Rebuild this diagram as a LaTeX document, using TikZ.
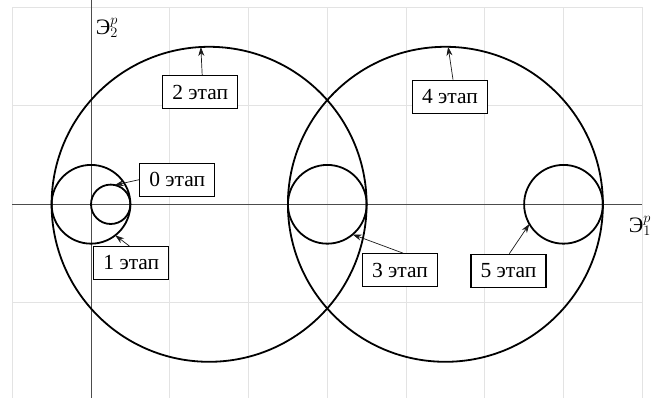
\documentclass[tikz,border=0pt]{standalone}
\usepackage{fontspec}
\setmainfont{Liberation Serif}
\usetikzlibrary{arrows.meta}
\begin{document}
\begin{tikzpicture}[x=1pt,y=-1pt,
  gridline/.style={draw=black!11,line width=0.8pt},
  axisline/.style={draw=black!70,line width=0.7pt},
  ring/.style={circle,draw=black,line width=1.8pt,inner sep=0pt,outer sep=0pt},
  stagebox/.style={draw=black,line width=1.1pt,fill=white,minimum width=75pt,
    minimum height=33pt,inner sep=0pt,font=\fontsize{21.5}{25}\selectfont},
  pointer/.style={draw=black!90,line width=0.7pt,-{Stealth[length=9pt,width=6pt]}},
  axislabel/.style={font=\fontsize{22}{26}\selectfont,inner sep=0pt}]
\useasboundingbox (0,0) rectangle (665,398);
\fill[white] (0,0) rectangle (665,398);

% background grid
\foreach \i in {0,...,8}
  \draw[gridline] ({12.3+78.75*\i},7.3) -- ({12.3+78.75*\i},398);
\foreach \y in {7.3,105.8,302.8}
  \draw[gridline] (12.3,\y) -- (642.3,\y);

% axes
\coordinate (xl) at (12.3,204.3);
\coordinate (xr) at (642.3,204.3);
\coordinate (yt) at (91,0);
\coordinate (yb) at (91,398);
\draw[axisline] (xl) -- (xr);
\draw[axisline] (yt) -- (yb);
\node[axislabel] (e2) at (107,28) {Э$_2^p$};
\node[axislabel] (e1) at (640,226) {Э$_1^p$};

% stage circles
\node[ring,minimum size=39.4pt]  (s0) at (110.7,204.3) {};
\node[ring,minimum size=78.75pt] (s1) at (91,204.3) {};
\node[ring,minimum size=315pt]   (bigA) at (209.1,204.3) {};
\node[ring,minimum size=78.75pt] (s3) at (327.3,204.3) {};
\node[ring,minimum size=315pt]   (bigB) at (445.4,204.3) {};
\node[ring,minimum size=78.75pt] (s5) at (563.5,204.3) {};

% stage labels
\node[stagebox] (b0) at (177.2,179.7) {0 этап};
\node[stagebox] (b1) at (131.3,263) {1 этап};
\node[stagebox] (b2) at (200.2,92.3) {2 этап};
\node[stagebox] (b3) at (400,270.3) {3 этап};
\node[stagebox] (b4) at (450,96.7) {4 этап};
\node[stagebox] (b5) at (508.5,270.8) {5 этап};

% pointers from labels to circles
\draw[pointer] (b0.west) -- (s0.78);
\draw[pointer] ([xshift=-2pt]b1.north) -- (s1.-52);
\draw[pointer] ([xshift=2pt]b2.north) -- (bigA.93.3);
\draw[pointer] ([xshift=3.3pt]b3.north) -- (s3.-50);
\draw[pointer] ([xshift=3pt]b4.north) -- (bigB.89);
\draw[pointer] ([xshift=0.8pt]b5.north) -- (s5.210);
\end{tikzpicture}
\end{document}
